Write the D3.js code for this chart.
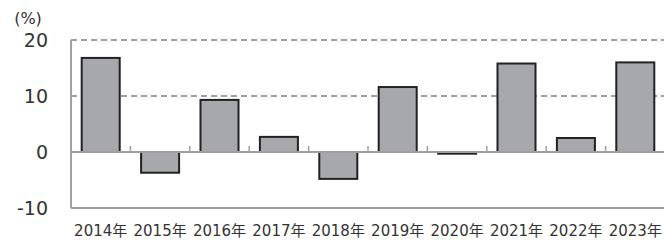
<!DOCTYPE html>
<html>
<head>
<meta charset="utf-8">
<script src="https://cdn.jsdelivr.net/npm/d3@7"></script>
<style>
  body { margin: 0; background: #fff; }
  svg { display: block; }
  text { font-family: "DejaVu Sans", "Noto Sans CJK JP", sans-serif; fill: #333; }
</style>
</head>
<body>
<div id="chart"></div>
<script>
var years = ['2014年', '2015年', '2016年', '2017年', '2018年', '2019年', '2020年', '2021年', '2022年', '2023年'];
var values = [16.8, -3.7, 9.3, 2.7, -4.8, 11.6, -0.3, 15.8, 2.5, 16.0];
var yTicks = [-10, 0, 10, 20];

var W = 664, H = 240;
var margin = { top: 40, right: 0, bottom: 32, left: 71 },
    width = 594,
    height = H - margin.top - margin.bottom;

var svg = d3.select('#chart').append('svg')
    .attr('width', W)
    .attr('height', H);

var g = svg.append('g')
    .attr('transform', 'translate(' + margin.left + ',' + margin.top + ')');

var x = d3.scaleBand()
    .domain(years)
    .range([0, width])
    .paddingInner(0.36)
    .paddingOuter(0.18);

var y = d3.scaleLinear()
    .domain([-10, 20])
    .range([height, 0]);

// dashed gridlines at 10 and 20
g.selectAll('.grid')
    .data(yTicks.filter(function(d) { return d > 0; }))
    .enter().append('line')
    .attr('x1', 0).attr('x2', width)
    .attr('y1', function(d) { return y(d); })
    .attr('y2', function(d) { return y(d); })
    .attr('stroke', '#a0a0a0')
    .attr('stroke-width', 2)
    .attr('stroke-dasharray', '6,4');

// bottom line at -10
g.append('line')
    .attr('x1', 0).attr('x2', width)
    .attr('y1', y(-10)).attr('y2', y(-10))
    .attr('stroke', '#a0a0a0')
    .attr('stroke-width', 2);

// bars
g.selectAll('.bar')
    .data(values)
    .enter().append('rect')
    .attr('x', function(d, i) { return x(years[i]); })
    .attr('y', function(d) { return y(Math.max(0, d)); })
    .attr('width', x.bandwidth())
    .attr('height', function(d) { return Math.abs(y(d) - y(0)); })
    .attr('fill', '#a7a8ab')
    .attr('stroke', '#222')
    .attr('stroke-width', 2);

// zero axis with upward ticks between categories
var step = x.step();
var xAxis = g.append('g')
    .attr('transform', 'translate(0,' + y(0) + ')');
xAxis.append('line')
    .attr('x1', 0).attr('x2', width)
    .attr('stroke', '#a0a0a0')
    .attr('stroke-width', 2);
xAxis.selectAll('.tk')
    .data(d3.range(1, years.length + 1))
    .enter().append('line')
    .attr('x1', function(d) { return d * step; })
    .attr('x2', function(d) { return d * step; })
    .attr('y1', 0).attr('y2', -6)
    .attr('stroke', '#a0a0a0')
    .attr('stroke-width', 1.5);

// left axis line
g.append('line')
    .attr('x1', 0).attr('x2', 0)
    .attr('y1', y(20)).attr('y2', y(-10))
    .attr('stroke', '#a0a0a0')
    .attr('stroke-width', 2);

// y tick labels
g.selectAll('.ylab')
    .data(yTicks)
    .enter().append('text')
    .attr('x', -23)
    .attr('y', function(d) { return y(d); })
    .attr('dy', '0.35em')
    .attr('text-anchor', 'end')
    .style('font-size', '19px')
    .text(function(d) { return d; });

// unit label
svg.append('text')
    .attr('x', 28)
    .attr('y', 24)
    .attr('text-anchor', 'middle')
    .style('font-size', '16px')
    .text('(%)');

// category labels
g.selectAll('.xlab')
    .data(years)
    .enter().append('text')
    .attr('x', function(d) { return x(d) + x.bandwidth() / 2; })
    .attr('y', H - margin.top - 4)
    .attr('text-anchor', 'middle')
    .style('font-size', '15px')
    .text(function(d) { return d; });
</script>
</body>
</html>
